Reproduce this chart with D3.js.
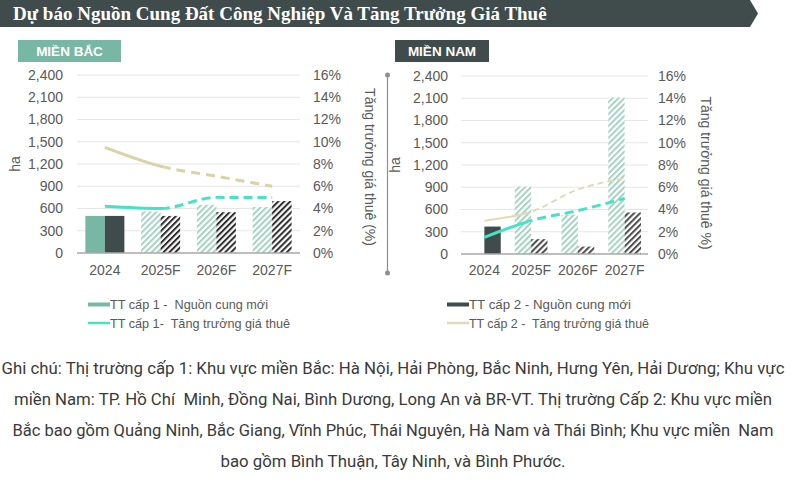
<!DOCTYPE html>
<html><head><meta charset="utf-8">
<script src="https://cdn.jsdelivr.net/npm/d3@7"></script>
<style>body{margin:0;background:#fff}svg{display:block}text{white-space:pre}</style>
</head><body>
<svg id="c" width="800" height="498"></svg>
<script>
// ---- data ----
const categories = ["2024", "2025F", "2026F", "2027F"];
const northTier1Supply = [500, 560, 650, 620];
const northTier2Supply = [500, 500, 550, 700];
const northTier1Rent = [4.2, 4.0, 5.0, 5.0];
const northTier2Rent = [9.5, 7.8, 6.9, 6.0];
const southTier1Supply = [0, 910, 530, 2110];
const southTier2Supply = [370, 200, 100, 560];
const southTier1Rent = [1.5, 3.0, 3.9, 5.0];
const southTier2Rent = [3.0, 3.8, 5.8, 6.8];
const supplyTicks = [0, 300, 600, 900, 1200, 1500, 1800, 2100, 2400];
const rentTicks = [0, 2, 4, 6, 8, 10, 12, 14, 16];
const titleText = "Dự báo Nguồn Cung Đất Công Nghiệp Và Tăng Trưởng Giá Thuê";
const legendLabels = ["TT cấp 1 -  Nguồn cung mới", "TT cấp 1-  Tăng trưởng giá thuê", "TT cấp 2 - Nguồn cung mới", "TT cấp 2 -  Tăng trưởng giá thuê"];
const noteLines = [
  "Ghi chú: Thị trường cấp 1: Khu vực miền Bắc: Hà Nội, Hải Phòng, Bắc Ninh, Hưng Yên, Hải Dương; Khu vực",
  "miền Nam: TP. Hồ Chí  Minh, Đồng Nai, Bình Dương, Long An và BR-VT. Thị trường Cấp 2: Khu vực miền",
  "Bắc bao gồm Quảng Ninh, Bắc Giang, Vĩnh Phúc, Thái Nguyên, Hà Nam và Thái Bình; Khu vực miền  Nam",
  "bao gồm Bình Thuận, Tây Ninh, và Bình Phước."
];

const C = {
  dark: "#404b4c", teal: "#77b7a4", cyan: "#45e3c6", beige: "#d9d3a5",
  tick: "#595959", grid: "#e6e6e6", base: "#a8a8a8"
};
const svg = d3.select("#c");
const font = "'Liberation Sans', Arial, sans-serif";

// ---- patterns ----
const defs = svg.append("defs");
function hatch(id, color, w, gap) {
  const p = defs.append("pattern").attr("id", id).attr("patternUnits", "userSpaceOnUse")
    .attr("width", gap).attr("height", gap).attr("patternTransform", "rotate(45)");
  p.append("rect").attr("width", gap).attr("height", gap).attr("fill", "#fff");
  p.append("rect").attr("width", w).attr("height", gap).attr("fill", color);
}
hatch("hTeal", "#a6d2c4", 2, 4.2);
hatch("hDark", "#2e2e2e", 2, 4.2);
hatch("hDark2", "#4a4a4a", 2, 4.2);

// ---- title bar ----
svg.append("path").attr("d", "M0,0H750L758,13.5L750,27H0Z").attr("fill", C.dark);
svg.append("text").attr("x", 13).attr("y", 20).text(titleText)
  .attr("font-family", "'Liberation Serif', 'Times New Roman', serif").attr("font-weight", "bold")
  .attr("font-size", 19).attr("fill", "#fff");

// ---- badges ----
function badge(x, y, w, h, fill, label) {
  svg.append("rect").attr("x", x).attr("y", y).attr("width", w).attr("height", h).attr("fill", fill);
  svg.append("text").attr("x", x + w / 2).attr("y", y + h / 2 + 5).attr("text-anchor", "middle")
    .attr("font-family", font).attr("font-weight", "bold").attr("font-size", 13.5).attr("fill", "#fff").text(label);
}
badge(18, 40, 103, 22, C.teal, "MIỀN BẮC");
badge(395, 40, 94, 22, C.dark, "MIỀN NAM");

// ---- panel ----
function panel(cfg) {
  const g = svg.append("g");
  const x = d3.scaleBand().domain(categories).range([cfg.x0, cfg.x1]).paddingInner(0.3).paddingOuter(0.15);
  const xs = d3.scaleBand().domain(["t1", "t2"]).range([0, x.bandwidth()]);
  const y = d3.scaleLinear().domain([0, 2400]).range([cfg.yBot, cfg.yTop]);
  const yR = d3.scaleLinear().domain([0, 16]).range([cfg.yBot, cfg.yTop]);

  g.selectAll(".grid").data(supplyTicks.filter(d => d > 0)).join("line")
    .attr("x1", cfg.x0).attr("x2", cfg.x1).attr("y1", d => y(d)).attr("y2", d => y(d))
    .attr("stroke", C.grid).attr("stroke-width", 1);

  const ax = g.append("g").attr("transform", `translate(${cfg.x0},0)`)
    .call(d3.axisLeft(y).tickValues(supplyTicks).tickFormat(d3.format(",")).tickSize(0).tickPadding(cfg.padL));
  const axR = g.append("g").attr("transform", `translate(${cfg.x1},0)`)
    .call(d3.axisRight(yR).tickValues(rentTicks).tickFormat(d => d + "%").tickSize(0).tickPadding(cfg.padR));
  const axB = g.append("g").attr("transform", `translate(0,${cfg.yBot})`)
    .call(d3.axisBottom(x).tickSize(0).tickPadding(cfg.padB));
  [ax, axR, axB].forEach(a => {
    a.select(".domain").remove();
    a.selectAll("text").attr("font-family", font).attr("font-size", 14).attr("fill", C.tick);
  });

  const rows = categories.map((c, i) => ({ c, t1: cfg.s1[i], t2: cfg.s2[i], fc: c.endsWith("F") }));
  const grp = g.selectAll(".grp").data(rows).join("g").attr("transform", d => `translate(${x(d.c)},0)`);
  grp.selectAll("rect").data(d => [{ k: "t1", v: d.t1, fc: d.fc }, { k: "t2", v: d.t2, fc: d.fc }]).join("rect")
    .attr("x", d => xs(d.k)).attr("width", xs.bandwidth())
    .attr("y", d => y(d.v)).attr("height", d => cfg.yBot - y(d.v))
    .attr("fill", d => d.k === "t1" ? (d.fc ? "url(#hTeal)" : C.teal) : (d.fc ? `url(#${cfg.darkHatch})` : C.dark));

  g.append("line").attr("x1", cfg.x0).attr("x2", cfg.x1).attr("y1", cfg.yBot).attr("y2", cfg.yBot)
    .attr("stroke", C.base).attr("stroke-width", 1.5);

  const cx = c => x(c) + x.bandwidth() / 2;
  const split = cx(categories[1]) + cfg.splitOff;
  const cid = cfg.id;
  defs.append("clipPath").attr("id", cid + "s").append("rect").attr("x", 0).attr("y", 0).attr("width", split).attr("height", 498);
  defs.append("clipPath").attr("id", cid + "d").append("rect").attr("x", split).attr("y", 0).attr("width", 800 - split).attr("height", 498);
  const line = d3.line().x((d, i) => cx(categories[i])).y(d => yR(d)).curve(d3.curveMonotoneX);
  cfg.lines.forEach(L => {
    g.append("path").attr("d", line(L.v)).attr("fill", "none").attr("stroke", L.color)
      .attr("stroke-width", L.w).attr("clip-path", `url(#${cid}s)`);
    g.append("path").attr("d", line(L.v)).attr("fill", "none").attr("stroke", L.color)
      .attr("stroke-width", L.w).attr("stroke-dasharray", L.dash).attr("clip-path", `url(#${cid}d)`);
  });

  g.append("text").attr("transform", `translate(${cfg.haX},${(cfg.yTop + cfg.yBot) / 2}) rotate(-90)`)
    .attr("text-anchor", "middle").attr("font-family", font).attr("font-size", 14).attr("fill", C.tick).text("ha");
  g.append("text").attr("transform", `translate(${cfg.rtX},${cfg.rtY}) rotate(90)`)
    .attr("text-anchor", "middle").attr("font-family", font).attr("font-size", 14).attr("fill", C.tick).text(cfg.rtLabel);
}

panel({
  id: "n", x0: 77, x1: 300, yTop: 75, yBot: 253, padL: 14, padR: 13, padB: 12,
  s1: northTier1Supply, s2: northTier2Supply, darkHatch: "hDark", splitOff: 4,
  lines: [
    { v: northTier2Rent, color: C.beige, w: 3, dash: "9,6" },
    { v: northTier1Rent, color: C.cyan, w: 3, dash: "9,5" }
  ],
  haX: 20, rtX: 365, rtY: 167, rtLabel: "Tăng trưởng giá thuê (%)"
});
panel({
  id: "s", x0: 461, x1: 648, yTop: 76, yBot: 254, padL: 13, padR: 10, padB: 11,
  s1: southTier1Supply, s2: southTier2Supply, darkHatch: "hDark2", splitOff: -3,
  lines: [
    { v: southTier2Rent, color: "#e0dab6", w: 2, dash: "6,4" },
    { v: southTier1Rent, color: C.cyan, w: 3, dash: "9,5" }
  ],
  haX: 400, rtX: 701, rtY: 173, rtLabel: "Tăng trưởng giá thuê %)"
});

// divider
svg.append("line").attr("x1", 387.5).attr("x2", 387.5).attr("y1", 75).attr("y2", 273).attr("stroke", "#8f8f8f").attr("stroke-width", 1.2);
svg.append("circle").attr("cx", 387.5).attr("cy", 75).attr("r", 2.5).attr("fill", "#8f8f8f");
svg.append("circle").attr("cx", 387.5).attr("cy", 273).attr("r", 2.5).attr("fill", "#8f8f8f");

// ---- legend ----
const legendItems = [
  { x: 88, y: 304.5, label: legendLabels[0], color: C.teal, h: 4, w: 158 },
  { x: 88, y: 323, label: legendLabels[1], color: C.cyan, h: 2.5, w: 180 },
  { x: 447, y: 304.5, label: legendLabels[2], color: C.dark, h: 4, w: 162 },
  { x: 447, y: 323, label: legendLabels[3], color: "#e0dab6", h: 2.5, w: 180 }
];
const lg = svg.append("g").selectAll("g").data(legendItems).join("g");
lg.append("rect").attr("x", d => d.x).attr("y", d => d.y - d.h / 2).attr("width", 22).attr("height", d => d.h).attr("fill", d => d.color);
lg.append("text").attr("x", d => d.x + 22).attr("y", d => d.y + 4.5).text(d => d.label)
  .attr("font-family", font).attr("font-size", 13).attr("fill", "#595959")
  .attr("textLength", d => d.w).attr("lengthAdjust", "spacingAndGlyphs");

// ---- note ----
const noteY = [368, 399, 430, 461];
const noteW = [783, 758, 761, 345];
svg.append("g").selectAll("text").data(noteLines).join("text")
  .attr("x", 393).attr("y", (d, i) => noteY[i] + 6).attr("text-anchor", "middle")
  .attr("font-family", "'Liberation Sans Narrow', 'Roboto', sans-serif").attr("font-size", 16).attr("fill", "#3a3a3a")
  .attr("textLength", (d, i) => noteW[i]).attr("lengthAdjust", "spacingAndGlyphs")
  .text(d => d);
</script>
</body></html>
